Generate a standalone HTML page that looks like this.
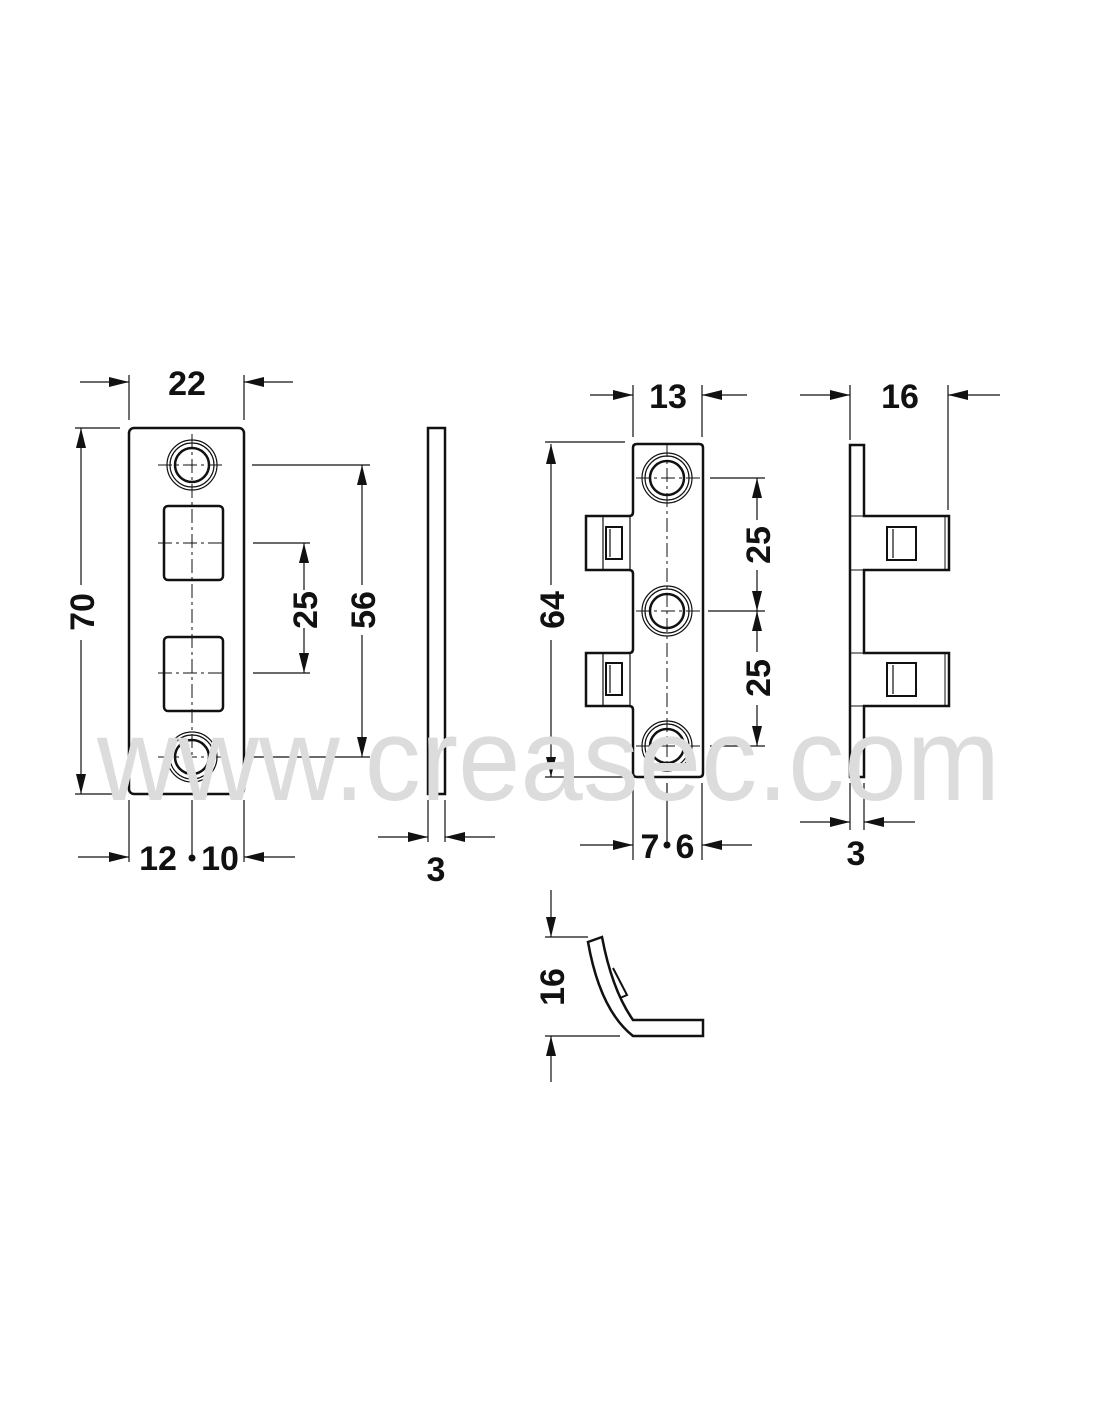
<!DOCTYPE html>
<html><head><meta charset="utf-8"><style>
html,body{margin:0;padding:0;background:#fff}
svg{display:block}
text{font-family:"Liberation Sans",Arial,sans-serif}
.d{font-weight:bold;font-size:34px;fill:#111}
</style></head><body>
<svg width="1100" height="1422" viewBox="0 0 1100 1422" xmlns="http://www.w3.org/2000/svg">
<defs>
<marker id="a" viewBox="0 0 20 10" refX="20" refY="5" markerWidth="20" markerHeight="10" markerUnits="userSpaceOnUse" orient="auto"><path d="M0,0 L20,5 L0,10 z" fill="#111"/></marker>
</defs>
<g stroke="#111" fill="none" stroke-width="1.2">
<rect x="129" y="428" width="115" height="366" rx="5" stroke-width="2.5"/>
<g>
<circle cx="192" cy="465" r="25"/><circle cx="192" cy="465" r="22"/><circle cx="192" cy="465" r="17" stroke-width="2.5"/>
<circle cx="192" cy="757" r="25"/><circle cx="192" cy="757" r="22"/><circle cx="192" cy="757" r="17" stroke-width="2.5"/>
</g>
<rect x="164" y="506" width="59" height="74" rx="4" stroke-width="2.5"/>
<rect x="164" y="637" width="59" height="74" rx="4" stroke-width="2.5"/>
<path d="M192 434V790" stroke-dasharray="14,4,3,4" stroke-width="1"/>
<path d="M158 465H226M158 757H226M158 543H226M158 673H226" stroke-dasharray="14,4,3,4" stroke-width="1"/>
<path d="M253 543H310M253 673H310M252 465H370M252 757H370M75 428H120M75 794H120"/>
<path d="M304 590V543" marker-end="url(#a)"/><path d="M304 628V673" marker-end="url(#a)"/>
<path d="M362 585V465" marker-end="url(#a)"/><path d="M362 635V757" marker-end="url(#a)"/>
<path d="M81 585V428" marker-end="url(#a)"/><path d="M81 640V794" marker-end="url(#a)"/>
<path d="M129 375V420M244 375V420"/>
<path d="M80 382H129" marker-end="url(#a)"/><path d="M293 382H244" marker-end="url(#a)"/>
<path d="M129 800V862M244 800V862M192 800V858"/>
<path d="M78 857H129" marker-end="url(#a)"/><path d="M295 857H244" marker-end="url(#a)"/>
<rect x="428" y="428" width="17" height="366" stroke-width="2.5"/>
<path d="M428 800V842M445 800V842"/>
<path d="M378 837H428" marker-end="url(#a)"/><path d="M495 837H445" marker-end="url(#a)"/>
<path d="M637 444H699Q703 444 703 448V773Q703 777 699 777H637Q633 777 633 773V710Q633 706 629 706H586V653H629Q633 653 633 649V574Q633 570 629 570H586V516H629Q633 516 633 512V448Q633 444 637 444Z" stroke-width="2.5"/>
<path d="M603 516V570M603 653V706M630 516V570M630 653V706"/>
<rect x="606" y="527" width="16" height="32" stroke-width="2"/>
<rect x="606" y="663" width="16" height="32" stroke-width="2"/>
<path d="M610 529V557M610 665V693"/>
<g>
<circle cx="667" cy="478" r="25"/><circle cx="667" cy="478" r="22"/><circle cx="667" cy="478" r="17" stroke-width="2.5"/>
<circle cx="667" cy="611" r="25"/><circle cx="667" cy="611" r="22"/><circle cx="667" cy="611" r="17" stroke-width="2.5"/>
<circle cx="667" cy="746" r="25"/><circle cx="667" cy="746" r="22"/><circle cx="667" cy="746" r="17" stroke-width="2.5"/>
</g>
<path d="M667 443V770M636 478H700M636 611H700M636 746H700" stroke-dasharray="14,4,3,4" stroke-width="1"/>
<path d="M710 478H765M708 611H765M710 746H765M545 442H625M545 777H625"/>
<path d="M757 520V478" marker-end="url(#a)"/><path d="M757 570V611" marker-end="url(#a)"/>
<path d="M757 652V611" marker-end="url(#a)"/><path d="M757 705V746" marker-end="url(#a)"/>
<path d="M551 585V444" marker-end="url(#a)"/><path d="M551 640V777" marker-end="url(#a)"/>
<path d="M633 385V437M702 385V437"/>
<path d="M590 395H633" marker-end="url(#a)"/><path d="M747 395H702" marker-end="url(#a)"/>
<path d="M633 783V860M702 783V860M667 783V843"/>
<path d="M580 845H633" marker-end="url(#a)"/><path d="M752 845H702" marker-end="url(#a)"/>
<path d="M850 445H864V516H949V570H864V653H949V706H864V777H850Z" stroke-width="2.5"/>
<path d="M945 516V570M945 653V706M850 516H864M850 570H864M850 653H864M850 706H864" stroke-width="1"/>
<rect x="887" y="527" width="29" height="33" stroke-width="2"/>
<rect x="887" y="663" width="29" height="33" stroke-width="2"/>
<path d="M893 529V558M893 665V694"/>
<path d="M850 385V440M948 385V510"/>
<path d="M800 395H850" marker-end="url(#a)"/><path d="M1000 395H948" marker-end="url(#a)"/>
<path d="M850 783V830M864 783V830"/>
<path d="M800 822H850" marker-end="url(#a)"/><path d="M915 822H864" marker-end="url(#a)"/>
<path d="M588 942L602 937Q612 990 633 1020H703V1036H633Q600 1010 588 942Z" stroke-width="2.5"/>
<path d="M613 968L627 995L620 998" stroke-width="2"/>
<path d="M545 937H588M545 1036H620"/>
<path d="M551 890V937" marker-end="url(#a)"/><path d="M551 1082V1036" marker-end="url(#a)"/>
</g>
<g fill="#111">
<circle cx="192" cy="858" r="3.5"/><circle cx="667" cy="845" r="3.5"/>
</g>
<text class="d" x="187" y="395" text-anchor="middle">22</text>
<text class="d" x="158" y="870" text-anchor="middle">12</text>
<text class="d" x="220" y="870" text-anchor="middle">10</text>
<text class="d" x="436" y="881" text-anchor="middle">3</text>
<text class="d" x="668" y="408" text-anchor="middle">13</text>
<text class="d" x="650" y="858" text-anchor="middle">7</text>
<text class="d" x="685" y="858" text-anchor="middle">6</text>
<text class="d" x="900" y="408" text-anchor="middle">16</text>
<text class="d" x="856" y="865" text-anchor="middle">3</text>
<text class="d" transform="translate(94,612) rotate(-90)" text-anchor="middle">70</text>
<text class="d" transform="translate(317,610) rotate(-90)" text-anchor="middle">25</text>
<text class="d" transform="translate(375,610) rotate(-90)" text-anchor="middle">56</text>
<text class="d" transform="translate(564,610) rotate(-90)" text-anchor="middle">64</text>
<text class="d" transform="translate(770,545) rotate(-90)" text-anchor="middle">25</text>
<text class="d" transform="translate(770,678) rotate(-90)" text-anchor="middle">25</text>
<text class="d" transform="translate(564,987) rotate(-90)" text-anchor="middle">16</text>
<text x="97" y="800" font-size="118" fill="#dcdcdc" textLength="903" lengthAdjust="spacingAndGlyphs" style="font-family:'Liberation Sans',sans-serif">www.creasec.com</text>
</svg>
</body></html>
